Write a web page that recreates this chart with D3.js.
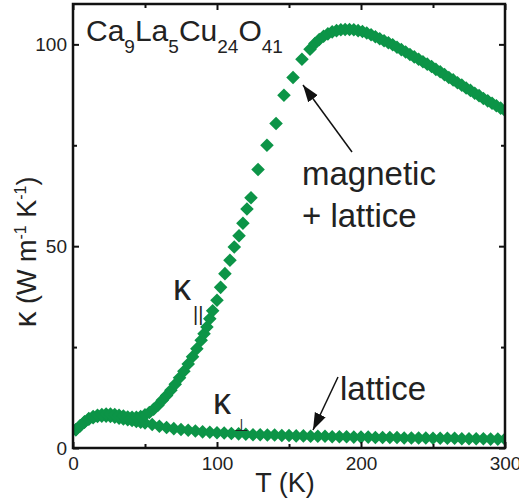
<!DOCTYPE html>
<html>
<head>
<meta charset="utf-8">
<script src="https://cdn.jsdelivr.net/npm/d3@7"></script>
<style>
  body { margin: 0; background: #fff; }
  text { font-family: "Liberation Sans", Arial, sans-serif; fill: #222; }
</style>
</head>
<body>
<div id="chart"></div>
<script>
// kappa parallel (T in K, kappa in W/mK)
var tPar = [2, 5, 8, 11, 14, 17, 20, 23, 26, 29, 32, 35, 38, 41, 44, 47, 50, 53, 56, 59,
    62, 65, 68, 71, 74, 77, 80, 83, 86, 89, 91, 93, 95, 97, 100, 102.5, 105.5, 109, 112, 115.3,
    118, 120.8, 123.6, 128.5, 134.7, 141, 146.5, 152.8, 159, 164.6, 168, 171, 174, 177, 180, 183,
    186, 189, 192, 195, 198, 201, 204, 207, 210, 213, 216, 219, 222, 225, 228, 231, 234, 237,
    240, 243, 246, 249, 252, 255, 258, 261, 264, 267, 270, 273, 276, 279, 282, 285, 288, 291,
    294, 297, 300];
var kPar = [4.5, 5.5, 6.5, 7.3, 7.8, 8.1, 8.3, 8.4, 8.4, 8.3, 8.1, 7.9, 7.7, 7.6, 7.6, 7.8, 8.2, 8.8, 9.6, 10.6,
    11.8, 13.0, 14.3, 15.8, 17.4, 19.0, 20.8, 22.6, 24.6, 26.7, 28.3, 30.0, 32.0, 34.0, 36.6, 39.8, 43.2, 46.5, 49.8, 52.6,
    55.7, 59.2, 62.0, 69.0, 75.0, 80.4, 87.4, 91.8, 96.3, 98.8, 100.2, 101.2, 102.0, 102.6, 103.1, 103.4,
    103.6, 103.7, 103.7, 103.6, 103.4, 103.2, 102.8, 102.4, 101.9, 101.4, 100.9, 100.4, 99.9, 99.3, 98.7, 98.1, 97.5, 96.9,
    96.3, 95.7, 95.1, 94.5, 93.8, 93.2, 92.5, 91.8, 91.2, 90.5, 89.9, 89.2, 88.6, 87.9, 87.3, 86.6, 86.0, 85.4,
    84.8, 84.2, 83.6];

// kappa perpendicular
var tPerp = [2, 5, 8, 11, 14, 17, 20, 23, 26, 29, 32, 35, 38, 41, 44, 47, 50, 55, 60, 65,
    70, 75, 80, 85, 90, 95, 100, 105, 110, 115, 120, 125, 130, 135, 140, 145, 150, 155, 160, 165,
    170, 175, 180, 185, 190, 195, 200, 205, 210, 215, 220, 225, 230, 235, 240, 245, 250, 255, 260, 265,
    270, 275, 280, 285, 290, 295, 300];
var kPerp = [4.5, 5.5, 6.4, 7.1, 7.5, 7.8, 7.9, 7.9, 7.8, 7.6, 7.4, 7.2, 7.0, 6.8, 6.6, 6.4, 6.2, 5.8, 5.4, 5.1,
    4.8, 4.6, 4.4, 4.2, 4.0, 3.9, 3.8, 3.7, 3.6, 3.5, 3.4, 3.3, 3.3, 3.2, 3.2, 3.1, 3.1, 3.0, 3.0, 2.9,
    2.9, 2.9, 2.8, 2.8, 2.8, 2.7, 2.7, 2.7, 2.6, 2.6, 2.6, 2.6, 2.5, 2.5, 2.5, 2.5, 2.4, 2.4, 2.4, 2.4,
    2.3, 2.3, 2.3, 2.3, 2.2, 2.2, 2.2];

var xMajor = [0, 100, 200, 300];
var xMinor = [50, 150, 250];
var yMajor = [0, 50, 100];
var yMinor = [25, 75];

var green = "#0c9447";

var W = 519, H = 499;
var margin = {top: 4, right: 14, bottom: 51, left: 73};
var width = W - margin.left - margin.right,
    height = H - margin.top - margin.bottom;

var svg = d3.select("#chart").append("svg")
    .attr("width", W)
    .attr("height", H);

var g = svg.append("g")
    .attr("transform", "translate(" + margin.left + "," + margin.top + ")");

var x = d3.scaleLinear().domain([0, 300]).range([0, width]);
var y = d3.scaleLinear().domain([0, 110]).range([height, 0]);

// clip so diamonds stay in the frame
g.append("clipPath").attr("id", "clip")
    .append("rect").attr("width", width).attr("height", height);

function toPoints(ts, ks) {
    return ts.map(function(t, i) { return {t: t, k: ks[i]}; });
}

var diamond = d3.symbol().type(d3.symbolSquare).size(92);

var plot = g.append("g").attr("clip-path", "url(#clip)");

[toPoints(tPerp, kPerp), toPoints(tPar, kPar)].forEach(function(data) {
    plot.append("g").selectAll("path")
        .data(data)
        .enter().append("path")
        .attr("d", diamond)
        .attr("fill", green)
        .attr("transform", function(d) {
            return "translate(" + x(d.t) + "," + y(d.k) + ") rotate(45)";
        });
});

// axes, ticks pointing inward
function styleAxis(sel) {
    sel.select(".domain").remove();
    sel.selectAll("line").attr("stroke", "#111").attr("stroke-width", 2);
    sel.selectAll("text").style("font-size", "19px").attr("fill", "#222")
        .style("font-family", "Liberation Sans, Arial, sans-serif");
}

g.append("g").attr("transform", "translate(0," + height + ")")
    .call(d3.axisBottom(x).tickValues(xMajor).tickSize(-6).tickPadding(9).tickFormat(d3.format("d")))
    .call(styleAxis);
g.append("g").attr("transform", "translate(0," + height + ")")
    .call(d3.axisBottom(x).tickValues(xMinor).tickSize(-4).tickFormat(""))
    .call(styleAxis);
g.append("g")
    .call(d3.axisTop(x).tickValues(xMajor).tickSize(-6).tickFormat(""))
    .call(styleAxis);
g.append("g")
    .call(d3.axisTop(x).tickValues(xMinor).tickSize(-4).tickFormat(""))
    .call(styleAxis);

g.append("g")
    .call(d3.axisLeft(y).tickValues(yMajor).tickSize(-6).tickPadding(6).tickFormat(d3.format("d")))
    .call(styleAxis);
g.append("g")
    .call(d3.axisLeft(y).tickValues(yMinor).tickSize(-4).tickFormat(""))
    .call(styleAxis);
g.append("g").attr("transform", "translate(" + width + ",0)")
    .call(d3.axisRight(y).tickValues(yMajor).tickSize(-6).tickFormat(""))
    .call(styleAxis);
g.append("g").attr("transform", "translate(" + width + ",0)")
    .call(d3.axisRight(y).tickValues(yMinor).tickSize(-4).tickFormat(""))
    .call(styleAxis);

// frame
g.append("rect")
    .attr("width", width)
    .attr("height", height)
    .attr("fill", "none")
    .attr("stroke", "#111")
    .attr("stroke-width", 2.5);

// axis titles
svg.append("text")
    .attr("x", margin.left + width / 2 - 4)
    .attr("y", 492)
    .attr("text-anchor", "middle")
    .style("font-size", "27px")
    .text("T (K)");

var yt = svg.append("text")
    .attr("transform", "translate(36," + (margin.top + height / 2 + 26) + ") rotate(-90)")
    .attr("text-anchor", "middle")
    .style("font-size", "27px");
yt.append("tspan").style("font-size", "32px").text("\u03ba");
yt.append("tspan").text(" (W m");
yt.append("tspan").attr("dy", -10).style("font-size", "16px").text("-1");
yt.append("tspan").attr("dy", 10).text(" K");
yt.append("tspan").attr("dy", -10).style("font-size", "16px").text("-1");
yt.append("tspan").attr("dy", 10).text(")");

// compound label
var f = svg.append("text")
    .attr("x", 86)
    .attr("y", 41)
    .style("font-size", "30px");
var formula = [["Ca", "9"], ["La", "5"], ["Cu", "24"], ["O", "41"]];
formula.forEach(function(p, i) {
    f.append("tspan").attr("dy", i === 0 ? 0 : -12).text(p[0]);
    f.append("tspan").attr("dy", 12).style("font-size", "19px").text(p[1]);
});

// curve labels
svg.append("text").attr("x", 173).attr("y", 300).style("font-size", "36px").text("\u03ba");
svg.append("text").attr("x", 193).attr("y", 321).style("font-size", "20px").text("||");
svg.append("text").attr("x", 213).attr("y", 414).style("font-size", "36px").text("\u03ba");
svg.append("text").attr("x", 234).attr("y", 431).style("font-size", "17px").text("\u22a5");

// annotations
svg.append("text").attr("x", 302).attr("y", 185).style("font-size", "33px").text("magnetic");
svg.append("text").attr("x", 302).attr("y", 227).style("font-size", "33px").text("+ lattice");
svg.append("text").attr("x", 340).attr("y", 400).style("font-size", "33px").text("lattice");

svg.append("defs").append("marker")
    .attr("id", "head")
    .attr("viewBox", "0 0 10 10")
    .attr("refX", 10).attr("refY", 5)
    .attr("markerWidth", 17).attr("markerHeight", 17)
    .attr("markerUnits", "userSpaceOnUse")
    .attr("orient", "auto")
    .append("path").attr("d", "M0,1.5 L10,5 L0,8.5 Z").attr("fill", "#111");

svg.append("line")
    .attr("x1", 352).attr("y1", 152).attr("x2", 303).attr("y2", 85)
    .attr("stroke", "#111").attr("stroke-width", 1.5)
    .attr("marker-end", "url(#head)");
svg.append("line")
    .attr("x1", 338).attr("y1", 377).attr("x2", 313).attr("y2", 430)
    .attr("stroke", "#111").attr("stroke-width", 1.5)
    .attr("marker-end", "url(#head)");
</script>
</body>
</html>
